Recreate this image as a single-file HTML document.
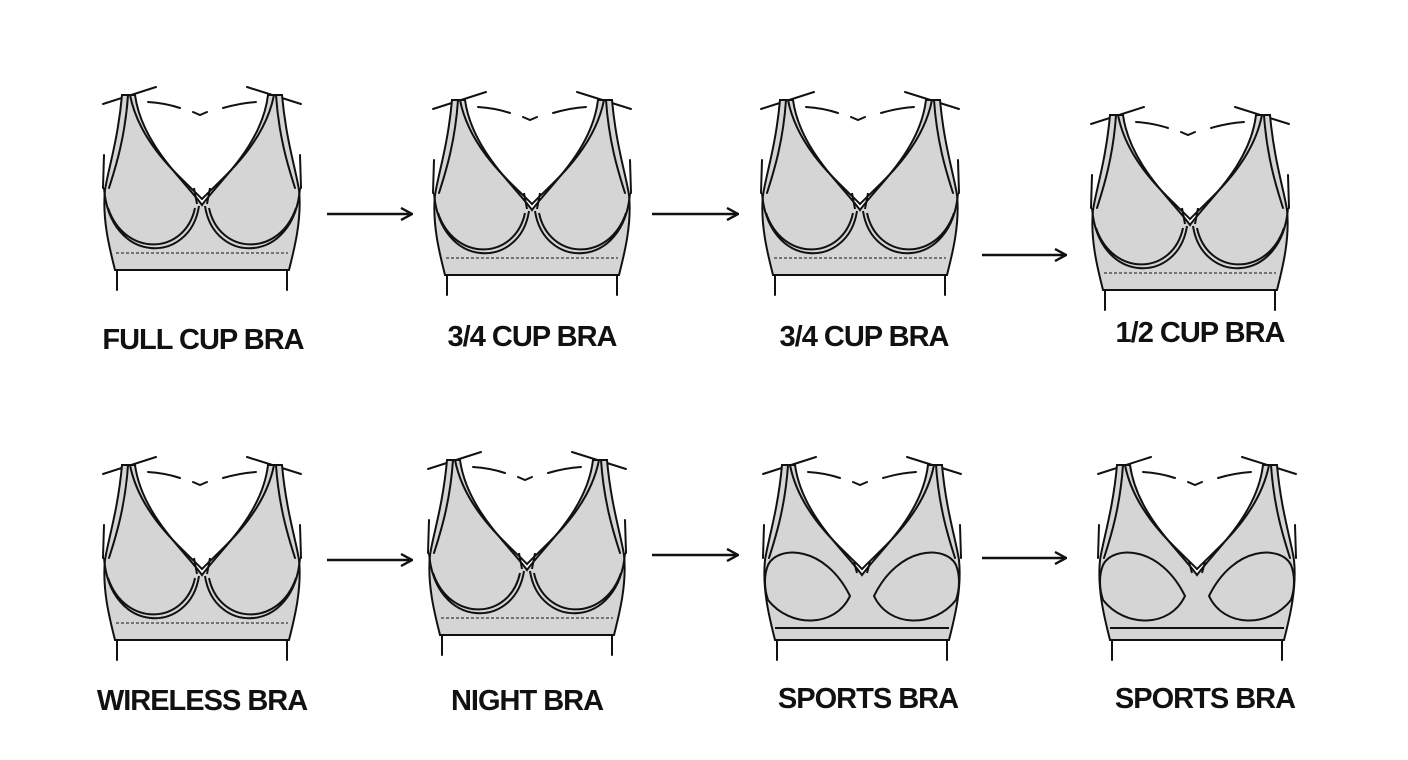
<!DOCTYPE html>
<html><head><meta charset="utf-8"><style>
body{margin:0;background:#fff;width:1408px;height:760px;overflow:hidden}
svg{display:block}
text{font-family:"Liberation Sans",sans-serif;font-weight:bold;font-size:29px;letter-spacing:-1px;fill:#111}
</style></head><body>
<svg width="1408" height="760" viewBox="0 0 1408 760">
<defs>
<g id="base" fill="none" stroke="#111" stroke-width="2" stroke-linecap="round">
  <path d="M13,24 L66,7 M157,7 L211,24"/>
  <path d="M58,22 Q75,23 90,28 M103,32 L110,35 L117,32 M133,28 Q150,23 166,22"/>
  <path d="M32,15 C28,60 18,90 15,110 C12,140 20,170 25,190 L199,190 C204,170 212,140 209,110 C206,90 196,60 192,15 L178,15 C172,65 130,100 112,125 C94,100 52,65 45,15 Z" fill="#d5d5d5"/>
  <path d="M38,15 C35,60 24,92 19,108 M186,15 C189,60 200,92 205,108"/>
  <path d="M40,15 C50,66 94,100 112,119 C130,100 174,66 184,15"/>
  <path d="M14,75 L13,108 M210,75 L211,108"/>
  <path d="M27,190 L27,210 M197,190 L197,210"/>
</g>
<g id="wire" fill="none" stroke="#111" stroke-width="2">
  <use href="#base"/>
  <path d="M14,108 C20,185 100,185 109,126 M18,128 C35,178 95,175 105,128"/>
  <path d="M210,108 C204,185 124,185 115,126 M206,128 C189,178 129,175 119,128"/>
  <path d="M107,124 L104,108 M117,124 L120,108"/>
  <path d="M26,173 L198,173" stroke-dasharray="3,2" stroke-width="1"/>
</g>
<g id="sport" fill="none" stroke="#111" stroke-width="2">
  <use href="#base"/>
  <path d="M18,115 C28,95 75,95 100,146 C85,178 40,178 18,150 C14,138 14,125 18,115 Z"/>
  <path d="M206,115 C196,95 149,95 124,146 C139,178 184,178 206,150 C210,138 210,125 206,115 Z"/>
  <path d="M25,178 L199,178"/>
  <path d="M107,123 L104,112 M117,123 L120,112"/>
</g>
<marker id="ah" markerWidth="14" markerHeight="14" refX="13" refY="7" orient="auto" markerUnits="userSpaceOnUse"><path d="M2,1 L13,7 L2,13" fill="none" stroke="#111" stroke-width="2.4"/></marker>
</defs>
<use href="#wire" transform="translate(90,80)"/>
<use href="#wire" transform="translate(420,85)"/>
<use href="#wire" transform="translate(748,85)"/>
<use href="#wire" transform="translate(1078,100)"/>
<use href="#wire" transform="translate(90,450)"/>
<use href="#wire" transform="translate(415,445)"/>
<use href="#sport" transform="translate(750,450)"/>
<use href="#sport" transform="translate(1085,450)"/>
<g stroke="#111" stroke-width="2.5" marker-end="url(#ah)">
<line x1="327" y1="214" x2="412" y2="214"/>
<line x1="652" y1="214" x2="738" y2="214"/>
<line x1="982" y1="255" x2="1066" y2="255"/>
<line x1="327" y1="560" x2="412" y2="560"/>
<line x1="652" y1="555" x2="738" y2="555"/>
<line x1="982" y1="558" x2="1066" y2="558"/>
</g>
<g text-anchor="middle">
<text x="203" y="349">FULL CUP BRA</text>
<text x="532" y="346">3/4 CUP BRA</text>
<text x="864" y="346">3/4 CUP BRA</text>
<text x="1200" y="342">1/2 CUP BRA</text>
<text x="202" y="710">WIRELESS BRA</text>
<text x="527" y="710">NIGHT BRA</text>
<text x="868" y="708">SPORTS BRA</text>
<text x="1205" y="708">SPORTS BRA</text>
</g>
</svg>
</body></html>
